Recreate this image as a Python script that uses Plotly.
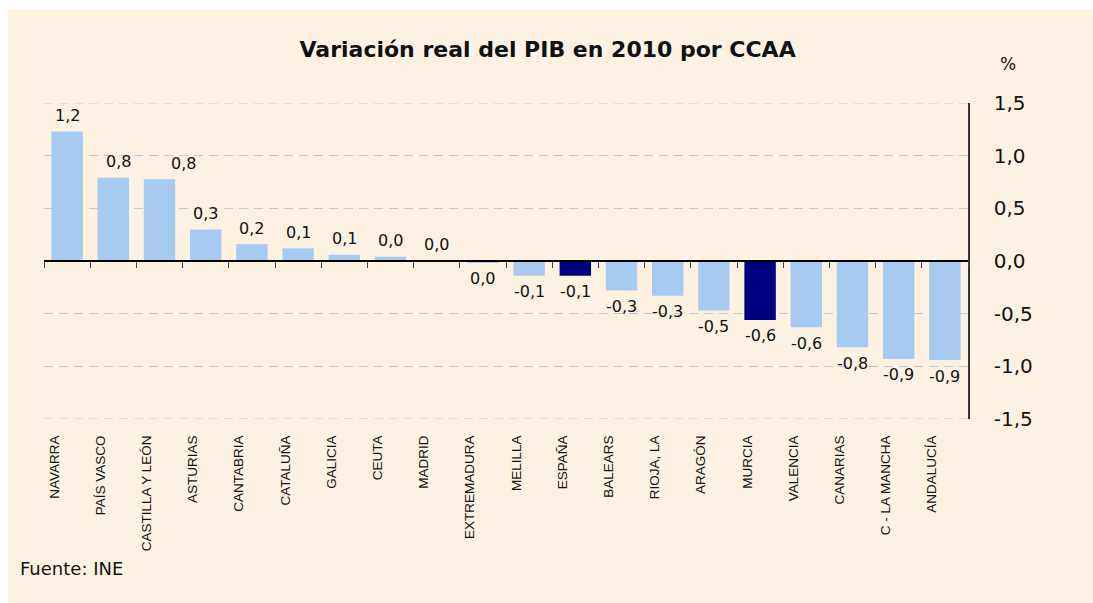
import plotly.graph_objects as go

# ---------------- data ----------------
regions = ["NAVARRA", "PAÍS VASCO", "CASTILLA Y LEÓN", "ASTURIAS", "CANTABRIA",
           "CATALUÑA", "GALICIA", "CEUTA", "MADRID", "EXTREMADURA", "MELILLA",
           "ESPAÑA", "BALEARS", "RIOJA, LA", "ARAGÓN", "MURCIA", "VALENCIA",
           "CANARIAS", "C - LA MANCHA", "ANDALUCÍA"]
values = [1.23, 0.79, 0.775, 0.30, 0.16, 0.12, 0.06, 0.04, 0.004, -0.01, -0.14,
          -0.14, -0.28, -0.33, -0.47, -0.56, -0.63, -0.82, -0.93, -0.94]
highlight = ["ESPAÑA", "MURCIA"]
ytick_vals = [1.5, 1.0, 0.5, 0.0, -0.5, -1.0, -1.5]
ytick_text = ["1,5", "1,0", "0,5", "0,0", "-0,5", "-1,0", "-1,5"]
title_text = "Variación real del PIB en 2010 por CCAA"
source_text = "Fuente: INE"
unit_text = "%"

# ---------------- style ----------------
CREAM = "#FDF2E2"
LIGHT = "#A6CAF0"
NAVY = "#000080"
GRID = "#C8C8C8"
DASH = "9px,6px"
FONT = "DejaVu Sans"
label_nudge = {"CASTILLA Y LEÓN": 24, "PAÍS VASCO": 5}


def fmt(v):
    s = f"{v:.1f}"
    if float(s) == 0:
        s = s.lstrip("-")
    return s.replace(".", ",")


colors = [NAVY if r in highlight else LIGHT for r in regions]

fig = go.Figure()
fig.add_trace(go.Bar(x=regions, y=values, marker=dict(color=colors, line=dict(width=0)),
                     width=0.68, xaxis="x", yaxis="y", showlegend=False,
                     hoverinfo="x+y"))
# invisible trace carrying the label axis
fig.add_trace(go.Scatter(x=regions, y=[0] * len(regions), mode="markers",
                         marker=dict(opacity=0), xaxis="x2", yaxis="y",
                         showlegend=False, hoverinfo="skip"))

annotations = []
for r, v in zip(regions, values):
    annotations.append(dict(x=r, y=v, xref="x", yref="y", text=fmt(v), showarrow=False,
                            yshift=16 if v >= 0 else -16, xshift=label_nudge.get(r, 0),
                            font=dict(family=FONT, size=16, color="#111")))

# plot area in px: left 44, right 968, top 103, bottom 419
L, R, T, B = 44, 968, 103, 419
W, H = R - L, B - T


def px_x(p):
    return (p - L) / W


def px_y(p):
    return (B - p) / H


annotations.append(dict(x=px_x(18), y=px_y(568), xref="paper", yref="paper", text=source_text,
                        showarrow=False, xanchor="left", yanchor="middle",
                        font=dict(family=FONT, size=18, color="#111")))
annotations.append(dict(x=px_x(1008), y=px_y(64), xref="paper", yref="paper", text=unit_text,
                        showarrow=False, xanchor="center", yanchor="middle",
                        font=dict(family=FONT, size=17, color="#111")))

shapes = [dict(type="rect", xref="paper", yref="paper", layer="below",
               x0=px_x(8), x1=px_x(1100), y0=px_y(610), y1=px_y(10),
               fillcolor=CREAM, line=dict(width=0))]
# dashed gridlines at the two range ends (plotly omits them at the frame edge)
for yv in (ytick_vals[0], ytick_vals[-1]):
    shapes.append(dict(type="line", xref="paper", yref="y", layer="below",
                       x0=0, x1=1, y0=yv, y1=yv, line=dict(color=GRID, width=1, dash=DASH)))

YMAX = max(abs(v) for v in ytick_vals)
fig.update_layout(
    width=1093, height=603,
    margin=dict(l=L, r=1093 - R, t=T, b=603 - B),
    paper_bgcolor="white",
    plot_bgcolor="rgba(0,0,0,0)",
    title=dict(text=title_text, x=0.501, xanchor="center", y=1 - 49 / 603, yanchor="middle",
               font=dict(family=FONT, size=22, color="#111", weight="bold")),
    shapes=shapes,
    annotations=annotations,
    xaxis=dict(type="category", categoryorder="array", categoryarray=regions,
               range=[-0.5, len(regions) - 0.5], anchor="free", position=0.5,
               showticklabels=False, ticks="outside", tickson="boundaries", ticklen=6,
               tickcolor="#444", tickwidth=1, showline=True, linecolor="black",
               linewidth=1.5, showgrid=False, zeroline=False),
    xaxis2=dict(type="category", categoryorder="array", categoryarray=regions,
                overlaying="x", anchor="y", side="bottom",
                range=[-0.5 + 0.28, len(regions) - 0.5 + 0.28],
                tickangle=-90, ticks="outside", ticklen=10, tickcolor="rgba(0,0,0,0)",
                showline=False, showgrid=False, zeroline=False,
                tickfont=dict(family="Liberation Sans", size=13.5, color="#111")),
    yaxis=dict(side="right", range=[-YMAX, YMAX], tickvals=ytick_vals, ticktext=ytick_text,
               showgrid=True, gridcolor=GRID, griddash=DASH, gridwidth=1,
               zeroline=False, showline=True, linecolor="#333", linewidth=1.5,
               ticks="", ticklabelstandoff=20,
               tickfont=dict(family=FONT, size=20, color="#111")),
)

fig.write_html("out.html", config={"displayModeBar": False},
               post_script="document.body.style.margin='0';")
